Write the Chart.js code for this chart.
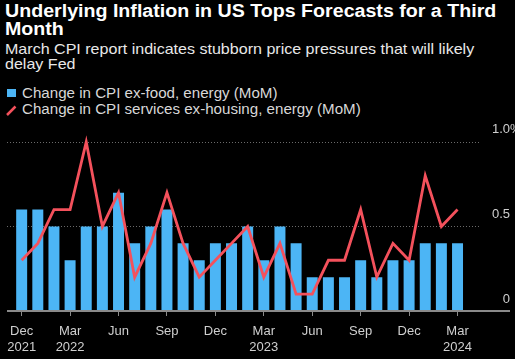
<!DOCTYPE html>
<html><head><meta charset="utf-8">
<script src="https://cdn.jsdelivr.net/npm/chart.js@4"></script>
<style>
html,body{margin:0;padding:0;background:#000;width:515px;height:359px;overflow:hidden;}
.t{position:absolute;left:5px;white-space:nowrap;font-family:"Liberation Sans",Arial,sans-serif;transform-origin:0 0;}
#title{top:2px;font-weight:bold;font-size:18px;line-height:18px;color:#fff;transform:scaleX(1.09);}
#sub{top:41px;font-size:15px;line-height:15px;color:#e8e8e8;transform:scaleX(1.07);}
.leg{left:22px;font-size:14px;line-height:14px;color:#d8d8d8;transform:scaleX(1.08);}
#wrap{position:absolute;left:0;top:0;width:515px;height:359px;}
</style></head>
<body>
<div id="title" class="t">Underlying Inflation in US Tops Forecasts for a Third<br>Month</div>
<div id="sub" class="t">March CPI report indicates stubborn price pressures that will likely<br>delay Fed</div>
<div class="t leg" style="top:86px">Change in CPI ex-food, energy (MoM)</div>
<div class="t leg" style="top:102px">Change in CPI services ex-housing, energy (MoM)</div>
<div style="position:absolute;left:7px;top:89px;width:9px;height:8px;background:#4cb5f5"></div>
<svg style="position:absolute;left:0;top:100px" width="20" height="20"><line x1="7" y1="15" x2="15.5" y2="6.5" stroke="#f4515c" stroke-width="2.5"/></svg>
<div id="wrap"><canvas id="c" width="515" height="359"></canvas></div>
<script>
// ---- data ----
const categories = ['2021-12','2022-01','2022-02','2022-03','2022-04','2022-05','2022-06','2022-07','2022-08','2022-09','2022-10','2022-11','2022-12',
  '2023-01','2023-02','2023-03','2023-04','2023-05','2023-06','2023-07','2023-08','2023-09','2023-10','2023-11','2023-12','2024-01','2024-02','2024-03'];
const coreCpi = [0.6,0.6,0.5,0.3,0.5,0.5,0.7,0.4,0.5,0.6,0.4,0.3,0.4,0.4,0.5,0.3,0.5,0.4,0.2,0.2,0.2,0.3,0.2,0.3,0.3,0.4,0.4,0.4];
const superCore = [0.3,0.4,0.6,0.6,1.0,0.5,0.7,0.2,0.4,0.7,0.4,0.2,0.3,0.4,0.5,0.2,0.4,0.1,0.1,0.3,0.3,0.6,0.2,0.4,0.3,0.8,0.5,0.6];
const xTickMonths = ['Dec','Mar','Jun','Sep','Dec','Mar','Jun','Sep','Dec','Mar'];
const xTickYears  = ['2021','2022','','','','2023','','','','2024'];
const yTickValues = [0, 0.5, 1.0];
const yTickText   = ['0', '0.5', '1.0'];
const yTopSuffix  = '%';
const seriesNames = ['Change in CPI ex-food, energy (MoM)', 'Change in CPI services ex-housing, energy (MoM)'];

const BLUE = '#4cb5f5', RED = '#f4515c', AXIS = '#8a8a8a', TXT = '#cfcfcf';
const FONT = '"Liberation Sans", Arial, sans-serif';

const deco = {
  id: 'deco',
  beforeDatasetsDraw(chart) {
    const ctx = chart.ctx, y = chart.scales.y;
    ctx.save();
    ctx.strokeStyle = '#6a6a6a'; ctx.lineWidth = 1; ctx.setLineDash([1, 2]);
    yTickValues.forEach(v => {
      if (v === 0) return;
      const py = Math.round(y.getPixelForValue(v)) + 0.5;
      ctx.beginPath(); ctx.moveTo(7, py); ctx.lineTo(480, py); ctx.stroke();
    });
    ctx.restore();
  },
  afterDatasetsDraw(chart) {
    const ctx = chart.ctx, y = chart.scales.y;
    ctx.save();
    const y0 = y.getPixelForValue(0);
    ctx.fillStyle = AXIS;
    ctx.fillRect(7, Math.round(y0) - 1, 503, 2);
    ctx.font = '13px ' + FONT;
    ctx.fillStyle = TXT;
    ctx.textBaseline = 'alphabetic';
    yTickValues.forEach((v, i) => {
      const py = y.getPixelForValue(v) - 8.5;
      ctx.textAlign = 'right';
      ctx.fillText(yTickText[i], 510, py);
      if (i === yTickValues.length - 1) { ctx.textAlign = 'left'; ctx.fillText(yTopSuffix, 510, py); }
    });
    ctx.restore();
  }
};

new Chart(document.getElementById('c'), {
  type: 'bar',
  data: {
    labels: categories,
    datasets: [
      { type: 'line', label: seriesNames[1], data: superCore, borderColor: RED, borderWidth: 2.8, pointRadius: 0, tension: 0, borderJoinStyle: 'miter', order: 0 },
      { type: 'bar', label: seriesNames[0], data: coreCpi, backgroundColor: BLUE, categoryPercentage: 1, barPercentage: 0.68, order: 1 }
    ]
  },
  options: {
    responsive: false, animation: false, devicePixelRatio: 1,
    layout: { padding: { left: 11.4, right: 49.4, top: 125, bottom: 0 } },
    plugins: { legend: { display: false }, tooltip: { enabled: false } },
    scales: {
      y: { display: false, min: 0, max: 1.1 },
      x: {
        offset: true,
        grid: { display: true, drawOnChartArea: false, drawTicks: true, tickLength: 5, offset: false,
                color: c => (c.index % 3 === 0 ? AXIS : 'rgba(0,0,0,0)'), lineWidth: 1 },
        border: { display: false },
        ticks: { autoSkip: false, maxRotation: 0, minRotation: 0, color: TXT, padding: 7,
                 font: { family: FONT, size: 13, lineHeight: 16 / 13 },
                 callback: (v, i) => {
                   if (i % 3 !== 0) return '';
                   const k = i / 3;
                   return xTickYears[k] ? [xTickMonths[k], xTickYears[k]] : xTickMonths[k];
                 } },
        afterFit(s) { s.height = 48; }
      }
    }
  },
  plugins: [deco]
});
</script>
</body></html>
